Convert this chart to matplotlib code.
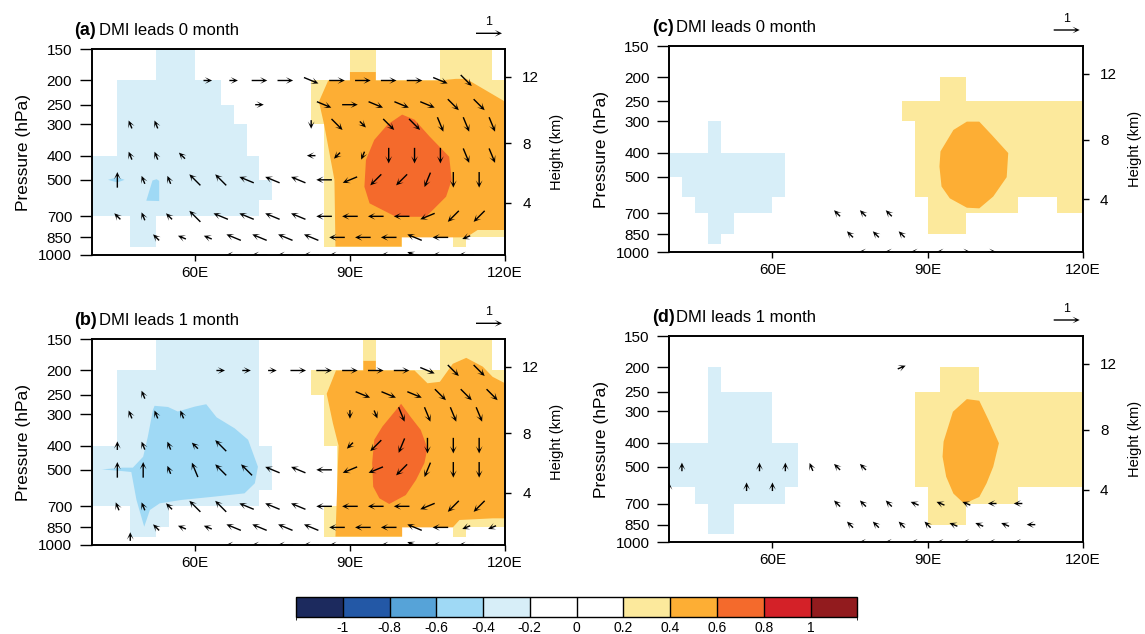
import numpy as np
import matplotlib.pyplot as plt
from matplotlib.colors import ListedColormap, BoundaryNorm
from matplotlib.cm import ScalarMappable
from matplotlib.ticker import NullLocator

plt.rcParams['font.family'] = ['Liberation Sans', 'DejaVu Sans']

# labelbar levels / colours
levels = [-1.0, -0.8, -0.6, -0.4, -0.2, 0.0, 0.2, 0.4, 0.6, 0.8, 1.0]
level_labels = ['-1', '-0.8', '-0.6', '-0.4', '-0.2', '0', '0.2', '0.4', '0.6', '0.8', '1']
colors = ['#1c2a5e', '#2358a6', '#56a3d8', '#9fd9f5', '#d7eef8', '#ffffff',
          '#ffffff', '#fce99c', '#fdae34', '#f46a2c', '#d42128', '#921b1e']
cmap = ListedColormap(colors)
norm = BoundaryNorm([-1.2] + levels + [1.2], cmap.N)

# significant cells: 2.5 deg boxes 40E-120E, rows between these levels (top first)
cell_lon = np.arange(40, 120.01, 2.5)
cell_p = [150, 200, 250, 300, 400, 500, 600, 700, 850, 925, 1000]
cell_val = {'.': np.nan, 'b': -0.3, 'y': 0.3}

cells_a = [
    ".....bbb............yy.....yyyy.",
    "..bbbbbbbb.......yyyyyyyyyyyyyyy",
    "..bbbbbbbbb......yyyyyyyyyyyyyyy",
    "..bbbbbbbbbb......yyyyyyyyyyyyyy",
    "bbbbbbbbbbbbb.....yyyyyyyyyyyyyy",
    "bbbbbbbbbbbbbb....yyyyyyyyyyyyyy",
    "bbbbbbbbbbbbb.....yyyyyyyyyyyyyy",
    "...bb.............yyyyyyyyyyyyyy",
    "...bb.............yyyyyy....y...",
    "................................",
]
cells_b = [
    ".....bbbbbbbb........y.....yyyy.",
    "..bbbbbbbbbbb....yyyyyyyyyyyyyyy",
    "..bbbbbbbbbbb.....yyyyyyyyyyyyyy",
    "..bbbbbbbbbbb.....yyyyyyyyyyyyyy",
    "bbbbbbbbbbbbbb.....yyyyyyyyyyyyy",
    "bbbbbbbbbbbbbb.....yyyyyyyyyyyyy",
    "bbbbbbbbbbbbb......yyyyyyyyyyyyy",
    "...bbb............yyyyyyyyyyyyyy",
    "...bb.............yyyyyy....y...",
    "................................",
]
cells_c = [
    "................................",
    ".....................yy.........",
    "..................yyyyyyyyyyyyyy",
    "...b...............yyyyyyyyyyyyy",
    "bbbbbbbbb..........yyyyyyyyyyyyy",
    ".bbbbbbbb..........yyyyyyyyyyyyy",
    "..bbbbbb............yyyyyyy...yy",
    "...bb...............yyy.........",
    "...b............................",
    "................................",
]
cells_d = [
    "................................",
    "...b.................yyy........",
    "...bbbbb...........yyyyyyyyyyyyy",
    "...bbbbb...........yyyyyyyyyyyyy",
    "bbbbbbbbbb.........yyyyyyyyyyyyy",
    "bbbbbbbbbb.........yyyyyyyyyyyyy",
    "..bbbbbbb...........yyyyyyy.....",
    "...bb...............yyy.........",
    "...bb...........................",
    "................................",
]

# smooth contour regions (lon, hPa outlines)
a_orange_lon = [85.8, 90.0, 90.0, 95.0, 95.0, 107.3, 110.5, 112.5, 120.0, 120.0,
                114.7, 112.5, 100.0, 100.0, 87.2, 87.0, 85.0, 84.0]
a_orange_p = [200, 200, 185, 185, 200, 200, 197, 197, 243, 794,
              794, 850, 850, 925, 925, 500, 300, 243]
a_red_lon = [100.1, 102.5, 105.4, 109.2, 109.7, 108.6, 105.7, 104.7, 98.9, 93.8,
             92.8, 93.1, 94.7, 97.3]
a_red_p = [274, 287, 335, 404, 500, 584, 671, 703, 703, 621, 533, 416, 346, 300]
a_blue1_lon = [43.2, 45.0, 46.4, 45.0]
a_blue1_p = [500, 488, 500, 512]
a_blue2_lon = [51.8, 52.6, 53.1, 53.1, 50.6]
a_blue2_p = [503, 497, 505, 608, 606]

b_orange_lon = [87.3, 92.6, 92.6, 95.0, 95.0, 102.5, 105.0, 107.4, 109.9, 112.5,
                115.7, 117.6, 120.0, 120.0, 117.6, 111.2, 109.9, 100.1, 100.1, 87.2,
                87.4, 87.8, 86.7, 85.5]
b_orange_p = [200, 200, 183, 183, 200, 200, 225, 222, 188, 178,
              193, 212, 225, 782, 782, 794, 850, 850, 925, 925,
              703, 400, 325, 248]
b_red_lon = [99.9, 101.8, 103.7, 105.0, 104.4, 102.8, 100.8, 97.6, 95.7, 94.5,
             94.3, 94.7, 96.3]
b_red_p = [272, 308, 346, 410, 470, 548, 631, 685, 650, 584, 470, 379, 335]
b_blue_lon = [52.2, 54.8, 56.7, 60.0, 62.2, 64.2, 67.7, 70.3, 72.2, 71.6,
              69.6, 63.8, 57.4, 53.2, 51.3, 50.2, 48.7, 47.7, 46.0, 42.0,
              46.0, 48.0, 50.0, 50.9, 51.9]
b_blue_p = [277, 280, 292, 279, 273, 308, 341, 379, 486, 566,
            621, 640, 660, 681, 724, 845, 660, 510, 506, 498,
            490, 490, 443, 368, 287]

c_orange_lon = [97.6, 100.0, 102.4, 105.6, 105.3, 102.7, 100.0, 97.6, 94.3, 92.7,
                92.3, 92.5, 95.0]
c_orange_p = [301, 301, 340, 402, 502, 600, 669, 665, 610, 547, 455, 396, 325]

d_orange_lon = [97.6, 100.0, 101.8, 103.8, 102.7, 101.4, 100.0, 97.1, 95.0, 93.6,
                92.9, 93.1, 94.9]
d_orange_p = [268, 272, 325, 402, 499, 582, 659, 701, 639, 547, 455, 396, 301]

# wind arrows: one char per 2.5 deg from 40E to 120E
# A..P = direction clockwise from east in 22.5 deg steps, lower case = weak
arrow_lon = np.arange(40, 120.01, 2.5)
arrows_a = {
    200: ".........a.a.A.A.B.A.A.A.A.B.C...",
    250: ".............a....B.A.B.B.B.C.C..",
    300: "...l.l...........e.C.c.C.C.D.D.D.",
    400: "...l.l.k.........i.g.f.E.E.E.D.D.",
    500: "..M.l.l.K.K.J.J.J.I.H.G.G.F.E.E..",
    700: "..k.l.k.K.J.J.J.J.I.I.I.I.H.G.G..",
    850: ".....k.j.j.J.J.J.J.I.I.I.J.I.h...",
    1000: "...........I.I.I.I.I...I.J.I.I...",
}
arrows_b = {
    200: "..........a.a.a.A.A.A.A.A.B.C.C..",
    250: "....l................B.B.B.C.C.C.",
    300: "...l.l.l............e.d.D.D.D.D..",
    400: "..m.l.l.k.K.........g.G.F.E.E.E..",
    500: "..M.M.l.L.K.K.J.J.I.H.H.G.F.E.E..",
    700: "..l.l.k.K.K.J.J.J.I.I.I.I.H.G.G..",
    850: ".....k.j.j.J.J.J.J.I.I.I.J.I.h.h.",
    925: "...m.............................",
    1000: "...........I.I.I.I.I...I.J.I.I...",
}
arrows_c = {
    700: ".............k.k.k...............",
    850: "..............k.k.k..............",
    1000: "...............i.i.i.i.a.a.......",
}
arrows_d = {
    200: "..................p..............",
    500: ".m.....m.m.l.k.k.................",
    600: "m.....m.m........................",
    700: ".............k.k.k.j.j.j.i.i.....",
    850: "..............k.k.k.k.j.j.j.i....",
    1000: "...............i.i.i.i.i.i.i.....",
}

p_ticks = [1000, 850, 700, 500, 400, 300, 250, 200, 150]
lon_ticks = [60, 90, 120]
lon_labels = ['60E', '90E', '120E']
height_km = [4, 8, 12]
titles = ['DMI leads 0 month', 'DMI leads 1 month', 'DMI leads 0 month', 'DMI leads 1 month']
tags = ['(a)', '(b)', '(c)', '(d)']


def std_pressure(z_km):
    z = z_km * 1000.0
    if z <= 11000:
        return 1013.25 * (1 - 0.0065 * z / 288.15) ** 5.25588
    return 226.32 * np.exp(-9.80665 * (z - 11000) / (287.05 * 216.65))


W, H = 1145, 634
fig = plt.figure(figsize=(W / 100, H / 100), dpi=100)


def px_axes(x0, y0, x1, y1):
    return fig.add_axes([x0 / W, 1 - y1 / H, (x1 - x0) / W, (y1 - y0) / H])


boxes = [(91.5, 49.3, 505, 255), (91.5, 339.3, 505, 545),
         (669, 46, 1082.7, 252), (669, 336, 1082.7, 542.3)]
all_cells = [cells_a, cells_b, cells_c, cells_d]
all_shapes = [
    [(0.5, a_orange_lon, a_orange_p), (0.7, a_red_lon, a_red_p),
     (-0.5, a_blue1_lon, a_blue1_p), (-0.5, a_blue2_lon, a_blue2_p)],
    [(0.5, b_orange_lon, b_orange_p), (0.7, b_red_lon, b_red_p),
     (-0.5, b_blue_lon, b_blue_p)],
    [(0.5, c_orange_lon, c_orange_p)],
    [(0.5, d_orange_lon, d_orange_p)],
]
all_arrows = [arrows_a, arrows_b, arrows_c, arrows_d]
codes = 'ABCDEFGHIJKLMNOP'

for i in range(4):
    x0, y0, x1, y1 = boxes[i]
    ax = px_axes(x0, y0, x1, y1)
    vals = np.array([[cell_val[c] for c in row] for row in all_cells[i]])
    ax.pcolormesh(cell_lon, cell_p, np.ma.masked_invalid(vals), cmap=cmap, norm=norm,
                  zorder=1)
    for v, lons, ps in all_shapes[i]:
        ax.fill(lons, ps, color=cmap(norm(v)), lw=0, zorder=2)

    xs, ys, us, vs = [], [], [], []
    for p, row in all_arrows[i].items():
        for lon, c in zip(arrow_lon, row):
            if c == '.':
                continue
            ang = np.radians(-22.5 * codes.index(c.upper()))
            mag = 0.6 if c.isupper() else 0.33
            xs.append(lon)
            ys.append(p)
            us.append(mag * np.cos(ang))
            vs.append(mag * np.sin(ang))
    q = ax.quiver(xs, ys, us, vs, angles='uv', pivot='middle', units='inches',
                  scale_units='inches', scale=1 / 0.26, width=0.014, headwidth=4.8,
                  headlength=5.2, headaxislength=2.8, color='black', zorder=3)
    ax.quiverkey(q, (x1 - 16) / W, 1 - (y0 - 16) / H, 1, '1', labelpos='N',
                 coordinates='figure', labelsep=0.05, fontproperties={'size': 9})

    ax.set_yscale('log')
    ax.set_xlim(40, 120)
    ax.set_ylim(1000, 150)
    ax.set_yticks(p_ticks)
    ax.set_yticklabels([str(p) for p in p_ticks])
    ax.yaxis.set_minor_locator(NullLocator())
    ax.set_xticks(lon_ticks)
    ax.set_xticklabels(lon_labels)
    ax.tick_params(axis='y', direction='out', length=8.4, width=1, pad=5.5, labelsize=11)
    ax.tick_params(axis='x', direction='out', length=4, width=1, pad=4, labelsize=11)
    ax.set_ylabel('Pressure (hPa)', fontsize=12.5, labelpad=5)
    for s in ax.spines.values():
        s.set_linewidth(1.2)

    ax2 = ax.twinx()
    ax2.set_yscale('log')
    ax2.set_ylim(1000, 150)
    ax2.set_yticks([std_pressure(z) for z in height_km])
    ax2.set_yticklabels([str(z) for z in height_km])
    ax2.yaxis.set_minor_locator(NullLocator())
    ax2.tick_params(axis='y', direction='out', length=4, width=1, pad=8.5, labelsize=11)
    ax2.set_ylabel('Height (km)', fontsize=10.5, labelpad=8)
    for s in ax2.spines.values():
        s.set_linewidth(1.2)

    fig.text((x0 - 17) / W, 1 - (y0 - 14) / H, tags[i], fontsize=13,
             fontweight='bold', va='baseline')
    fig.text((x0 + 7.5) / W, 1 - (y0 - 14) / H, titles[i], fontsize=12,
             va='baseline')

cax = px_axes(296, 597.3, 857.3, 616.7)
sm = ScalarMappable(norm=norm, cmap=cmap)
cb = fig.colorbar(sm, cax=cax, orientation='horizontal', ticks=levels, drawedges=True)
cb.set_ticklabels(level_labels)
cb.ax.tick_params(length=0, labelsize=10, pad=3)
cb.outline.set_linewidth(1)
cb.dividers.set_linewidth(1)

fig.savefig('out.png', dpi=100)
